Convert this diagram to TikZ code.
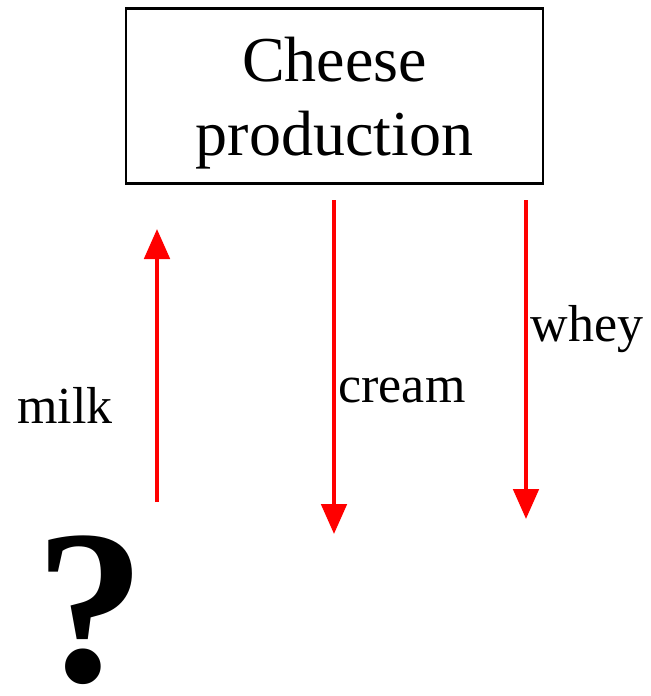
\documentclass[tikz,border=0pt]{standalone}
\usepackage{fontspec}
\setmainfont{Liberation Serif}
\usetikzlibrary{arrows.meta,positioning}

\begin{document}
\begin{tikzpicture}[
  x=0.75pt, y=-0.75pt,
  >={Triangle[length=22.5pt,width=19pt]},
  flow/.style={->, draw=red, fill=red, line width=3pt},
  lbl/.style={font=\fontsize{39}{45}\selectfont, inner sep=0pt},
  unit/.style={rectangle, draw, line width=2pt, minimum width=312.75pt, minimum height=131.25pt},
  unittxt/.style={align=center, inner sep=0pt, font=\fontsize{48}{56}\selectfont}
]
\useasboundingbox (0,0) rectangle (650,696);

% Unit
\node[unit] (prod) at (334.5,96) {};
\node[unittxt] (prodtxt) at (334.5,103) {Cheese\\production};

% Ends of the streams
\coordinate (milkA) at (157,502);
\coordinate (milkB) at (157,229);
\coordinate (creamA) at (334,200);
\coordinate (creamB) at (334,534);
\coordinate (wheyA) at (526,200);
\coordinate (wheyB) at (526,519);

% Streams
\draw[flow] (milkA) -- (milkB);
\draw[flow] (creamA) -- (creamB);
\draw[flow] (wheyA) -- (wheyB);

% Labels
\node[lbl] (milk)  at (65,405)  {milk};
\node[lbl] (cream) at (402,390) {cream};
\node[lbl] (whey)  at (587,329) {whey};

% Unknown source
\node[font=\fontsize{165}{165}\selectfont\bfseries, inner sep=0pt] (src) at (91,610) {?};

\end{tikzpicture}
\end{document}
